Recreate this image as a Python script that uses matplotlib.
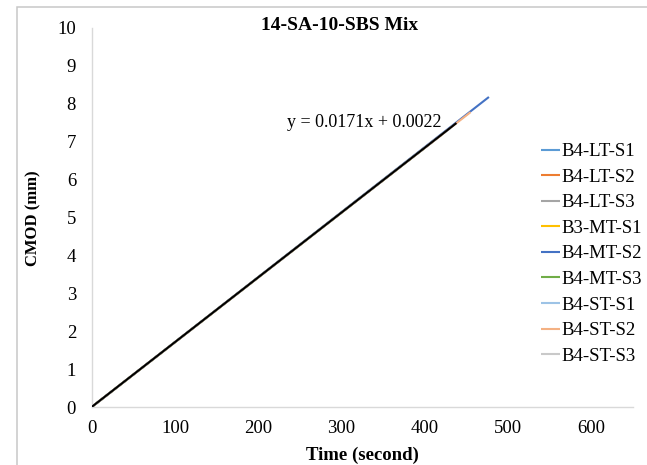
import matplotlib
matplotlib.use("Agg")
import matplotlib.pyplot as plt
from matplotlib.patches import Rectangle

plt.rcParams['font.family'] = ['Liberation Serif', 'DejaVu Serif']

# ---- data ----
series_names = ["B4-LT-S1", "B4-LT-S2", "B4-LT-S3", "B3-MT-S1", "B4-MT-S2",
                "B4-MT-S3", "B4-ST-S1", "B4-ST-S2", "B4-ST-S3"]
series_colors = ["#5B9BD5", "#ED7D31", "#A5A5A5", "#FFC000", "#4472C4",
                 "#70AD47", "#9DC3E6", "#F4B183", "#C9C9C9"]
series_time = [
    [0, 430], [0, 420], [0, 410], [0, 425], [0, 477],
    [0, 400], [0, 435], [0, 455], [0, 415],
]
series_cmod = [
    [0, 7.35], [0, 7.18], [0, 7.01], [0, 7.27], [0, 8.18],
    [0, 6.84], [0, 7.44], [0, 7.78], [0, 7.10],
]
trend_slope = 0.0171
trend_intercept = 0.0022
trend_range = [0, 438]

x_ticks = [0, 100, 200, 300, 400, 500, 600]
y_ticks = [0, 1, 2, 3, 4, 5, 6, 7, 8, 9, 10]

W, H = 647, 465
FS = 13.5
fig = plt.figure(figsize=(W / 100, H / 100), dpi=100)
fig.patch.set_facecolor("white")

# chart border (cropped at right/bottom)
fig.patches.append(Rectangle((16.7 / W, -0.05), 1.1, 1 - 7.3 / H + 0.05,
                             transform=fig.transFigure, fill=False,
                             edgecolor="#C8C8C8", linewidth=1.1))

ax = fig.add_axes([91.7 / W, 1 - 407 / H, (633 - 91.7) / W, (407 - 28) / H])
ax.set_xlim(0, 650)
ax.set_ylim(0, 10)

for name, col, t, c in zip(series_names, series_colors, series_time, series_cmod):
    ax.plot(t, c, color=col, linewidth=1.5, label=name, solid_capstyle='butt')

tx = trend_range
ty = [trend_slope * v + trend_intercept for v in tx]
ax.plot(tx, ty, color="black", linewidth=1.5, solid_capstyle='butt', zorder=5)

ax.text(420, 7.5, "y = 0.0171x + 0.0022", ha="right", va="center", fontsize=13)

ax.set_xticks(x_ticks)
ax.set_yticks(y_ticks)
ax.tick_params(length=0, labelsize=FS)
ax.tick_params(axis='x', pad=9)
ax.tick_params(axis='y', pad=11.3)
for s in ["top", "right"]:
    ax.spines[s].set_visible(False)
for s in ["left", "bottom"]:
    ax.spines[s].set_color("#D9D9D9")
    ax.spines[s].set_linewidth(1.0)

fig.text(340 / W, 1 - 25 / H, "14-SA-10-SBS Mix", ha="center", va="center",
         fontsize=14, fontweight="bold")
fig.text(362 / W, 1 - 455 / H, "Time (second)", ha="center", va="center",
         fontsize=FS, fontweight="bold")
fig.text(33 / W, 1 - 218 / H, "CMOD (mm)", ha="center", va="center",
         fontsize=12, fontweight="bold", rotation=90)

leg = ax.legend(loc="upper left", bbox_to_anchor=(541 / W, 1 - 143 / H),
                bbox_transform=fig.transFigure, frameon=False, fontsize=FS,
                handlelength=1.0, handletextpad=0.1, labelspacing=0.45,
                borderaxespad=0, borderpad=0)

fig.savefig("out.png", dpi=100, facecolor="white")
